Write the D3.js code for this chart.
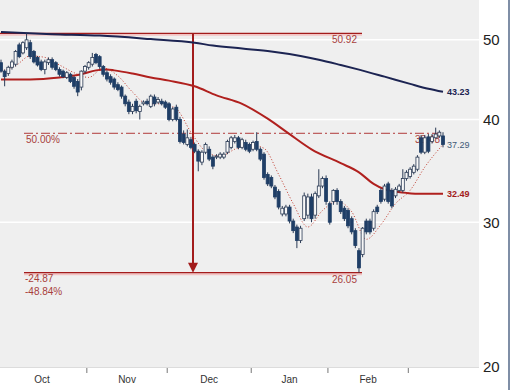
<!DOCTYPE html>
<html>
<head>
<meta charset="utf-8">
<script src="https://cdn.jsdelivr.net/npm/d3@7"></script>
<style>
  body { margin: 0; background: #fff; }
  text { font-family: "Liberation Sans", Arial, sans-serif; }
</style>
</head>
<body>
<script>

var width = 511,
  height = 390;

// daily candles: open, high, low, close
var opens = [46.9,45.8,45.5,46.3,46.7,49.3,48.2,48.9,49.6,48.4,47.6,47.0,46.0,46.9,47.3,46.9,46.0,45.8,45.0,45.4,
  45.0,44.5,43.8,45.8,46.3,46.7,48.0,47.7,46.4,45.6,45.1,44.8,44.1,43.8,42.7,42.0,40.9,42.1,40.9,41.8,
  42.1,41.5,42.6,42.0,42.1,42.0,41.8,40.0,41.4,40.0,38.4,37.3,37.8,37.3,36.6,35.5,36.5,36.8,36.0,36.0,
  36.0,36.0,36.5,37.0,37.6,38.0,37.0,37.5,37.3,36.8,37.6,36.8,36.3,34.3,34.0,33.1,32.7,30.7,30.7,31.3,
  30.1,29.6,28.5,30.3,30.6,32.2,30.6,32.3,33.2,33.9,31.6,31.8,32.8,31.8,31.2,31.0,30.3,29.3,27.7,27.4,
  30.1,30.1,29.5,31.3,32.8,32.0,33.4,32.8,32.3,32.8,32.8,33.9,34.1,34.5,34.8,38.0,36.5,38.1,37.6,38.0,
  38.2,38.2];
var highs = [47.3,46.0,46.5,47.3,48.6,49.6,49.8,50.92,50.0,48.6,47.8,47.3,47.3,47.6,47.6,47.1,46.3,46.0,45.8,45.6,
  45.2,44.8,45.9,46.6,47.1,48.2,48.2,47.9,46.6,45.9,45.4,45.0,44.4,44.0,42.9,42.3,41.8,42.4,41.7,42.2,
  42.4,42.9,42.9,42.6,42.4,42.2,42.0,41.4,41.7,40.3,38.8,38.9,38.1,37.5,36.8,36.7,37.5,37.1,36.2,36.3,
  36.5,36.5,37.8,38.2,38.3,38.2,38.0,37.8,37.5,37.7,38.6,37.0,36.5,34.5,34.2,33.3,32.9,31.4,31.5,31.5,
  30.3,29.8,29.7,32.6,32.5,32.5,32.7,34.8,34.1,34.2,31.8,32.9,33.0,32.0,31.4,31.2,30.5,29.5,27.9,29.6,
  30.3,30.3,31.1,31.5,33.0,33.4,33.6,33.0,33.1,33.4,34.8,34.7,35.0,35.3,36.2,38.3,38.3,38.4,38.4,39.1,
  38.8,38.6];
var lows = [45.6,43.9,45.2,46.0,46.4,47.5,48.0,48.6,47.4,46.8,46.4,45.8,45.4,46.6,46.0,45.8,45.1,44.9,44.8,44.3,
  43.6,42.7,43.4,45.5,46.0,46.4,46.7,46.1,45.1,44.5,44.1,43.5,43.3,42.4,41.5,40.6,40.6,40.7,40.0,41.6,
  41.6,41.3,41.5,41.8,41.6,41.2,39.8,39.8,39.8,37.4,37.3,37.1,36.8,36.4,34.6,35.2,36.3,35.6,34.8,35.8,
  35.8,35.8,36.3,36.8,37.4,36.8,36.8,36.6,36.4,36.6,36.6,35.6,33.8,33.2,33.0,32.0,31.1,30.5,30.5,29.9,
  29.1,27.9,28.3,30.1,30.3,30.0,30.3,32.1,33.0,31.5,29.8,31.5,31.5,30.7,30.1,29.5,29.0,27.9,26.05,27.2,
  29.0,29.0,29.3,30.7,31.6,31.8,31.6,31.2,32.1,32.6,32.6,33.7,33.9,34.3,34.6,36.3,36.3,36.4,37.4,37.9,
  38.0,37.0];
var closes = [45.8,45.1,46.3,47.0,48.4,47.7,49.6,50.0,47.7,47.0,46.6,46.0,47.0,47.3,46.3,46.0,45.4,45.1,45.6,44.5,
  43.9,43.2,45.8,46.4,46.9,47.6,46.9,46.4,45.4,44.8,44.4,43.8,43.5,42.7,41.8,40.9,41.5,41.0,41.5,42.0,
  41.8,42.7,41.8,42.3,41.8,41.4,40.0,41.2,40.0,37.6,37.5,38.0,37.0,36.6,35.6,36.5,37.3,35.8,35.1,36.1,
  36.3,36.3,37.6,38.0,38.0,37.0,37.8,36.8,36.6,37.5,36.8,35.8,34.0,33.4,33.2,32.2,31.3,31.2,31.3,30.1,
  29.3,28.5,29.5,32.3,32.2,30.3,32.5,33.2,33.9,31.8,30.0,32.8,31.8,30.9,30.3,29.7,29.2,28.1,26.4,29.5,
  29.2,29.2,30.9,30.9,31.8,33.2,31.8,31.4,32.9,33.2,33.9,34.5,34.8,35.1,36.0,36.5,38.0,36.6,38.1,38.4,
  38.6,37.29];

// moving averages (candle index, value)
var ma200Idx = [0, 14, 27, 41, 53, 58, 66, 74, 82, 87, 93, 98, 105, 112, 117, 121];
var ma200Val = [51.1, 50.8, 50.6, 50.1, 49.6, 49.2, 48.8, 48.4, 47.8, 47.3, 46.6, 46.0, 45.1, 44.2, 43.6, 43.23];
var ma50Idx = [0, 8, 16, 22, 26, 29, 31, 36, 41, 46, 53, 59, 66, 73, 79, 85, 93, 98, 102, 105, 107, 111, 115, 121];
var ma50Val = [44.75, 44.75, 45.0, 45.4, 45.9, 46.0, 45.9, 45.5, 45.0, 44.6, 43.9, 42.8, 41.8, 40.1, 38.4, 36.8,
  35.4, 34.5, 33.4, 32.9, 32.75, 32.57, 32.48, 32.49];
var ma10Idx = [0, 4, 8, 12, 16, 20, 24, 28, 32, 36, 40, 44, 48, 52, 56, 60, 64, 68, 72, 76, 80, 84, 88, 92, 96,
  100, 104, 108, 112, 116, 121];
var ma10Val = [45.8, 46.5, 47.8, 47.6, 46.6, 45.6, 45.0, 46.2, 45.2, 43.2, 41.8, 41.8, 41.2, 38.6, 36.6, 36.1,
  36.8, 37.3, 36.9, 34.3, 31.6, 29.6, 31.0, 31.8, 30.9, 28.6, 29.8, 31.6, 32.8, 35.0, 37.3];

var monthLabels = ["Oct", "Nov", "Dec", "Jan", "Feb"];
var monthBounds = [-1, 23.5, 45.5, 68.5, 89.5, 111.5];
var yTicks = [20, 30, 40, 50];

var hiVal = 50.92, loVal = 26.05, hiIdx = 7, loIdx = 98;
var midVal = (hiVal + loVal) / 2;

var plotW = 479, plotH = 367;

var svg = d3.select("body").append("svg")
  .attr("width", width)
  .attr("height", height);

var x = d3.scaleLinear().domain([0, 121]).range([1, 443]);
var y = d3.scaleLog().domain([20, 55.9]).range([plotH, 0]);

svg.append("rect")
  .attr("x", 0).attr("y", 0)
  .attr("width", plotW).attr("height", plotH)
  .attr("fill", "#efefef");

svg.append("line")
  .attr("x1", 0).attr("x2", plotW)
  .attr("y1", plotH + 0.5).attr("y2", plotH + 0.5)
  .attr("stroke", "#dcdcdc");

svg.append("line")
  .attr("x1", 509).attr("x2", 509)
  .attr("y1", 0).attr("y2", height)
  .attr("stroke", "#7f8ea6").attr("stroke-width", 2);

// grid lines
svg.selectAll(".grid").data(yTicks.slice(1)).enter().append("line")
  .attr("class", "grid")
  .attr("x1", 0).attr("x2", plotW)
  .attr("y1", function(d){return y(d)}).attr("y2", function(d){return y(d)})
  .attr("stroke", "#fff").attr("stroke-width", 1.5);

svg.selectAll(".ylab").data(yTicks).enter().append("text")
  .attr("class", "ylab")
  .attr("x", 483)
  .attr("y", function(d){return y(d)})
  .attr("dy", "0.36em")
  .attr("font-size", 15)
  .attr("fill", "#222")
  .text(function(d){return d});

// month ticks and labels
svg.selectAll(".mtick").data(monthBounds.slice(1)).enter().append("line")
  .attr("class", "mtick")
  .attr("x1", function(d){return x(d)}).attr("x2", function(d){return x(d)})
  .attr("y1", plotH + 1).attr("y2", plotH + 6)
  .attr("stroke", "#777");

svg.selectAll(".mlab").data(monthLabels).enter().append("text")
  .attr("class", "mlab")
  .attr("x", function(d, i){return x((monthBounds[i] + monthBounds[i + 1]) / 2)})
  .attr("y", 383)
  .attr("text-anchor", "middle")
  .attr("font-size", 10)
  .attr("fill", "#333")
  .text(function(d){return d});

// high / low retracement lines
var red = "#a31c1c";
var hiY = y(hiVal), loY = y(loVal), midY = y(midVal);
var lineEnd = 362;

svg.append("line").attr("x1", 0).attr("x2", lineEnd).attr("y1", hiY + 1.5).attr("y2", hiY + 1.5)
  .attr("stroke", "#f3c4c4").attr("stroke-width", 2);
svg.append("line").attr("x1", 0).attr("x2", lineEnd).attr("y1", hiY).attr("y2", hiY)
  .attr("stroke", red).attr("stroke-width", 1.3);
svg.append("line").attr("x1", 24).attr("x2", lineEnd).attr("y1", loY + 1.5).attr("y2", loY + 1.5)
  .attr("stroke", "#f3c4c4").attr("stroke-width", 2);
svg.append("line").attr("x1", 24).attr("x2", lineEnd).attr("y1", loY).attr("y2", loY)
  .attr("stroke", red).attr("stroke-width", 1.3);
svg.append("line").attr("x1", 24).attr("x2", 441).attr("y1", midY).attr("y2", midY)
  .attr("stroke", "#b03a3a").attr("stroke-width", 1)
  .attr("stroke-dasharray", "9,3,2,3");

var redText = "#a8403c";
svg.append("text").attr("x", 357).attr("y", hiY + 10).attr("text-anchor", "end")
  .attr("font-size", 10).attr("fill", redText).text(hiVal.toFixed(2));
svg.append("text").attr("x", 357).attr("y", loY + 10).attr("text-anchor", "end")
  .attr("font-size", 10).attr("fill", redText).text(loVal.toFixed(2));
svg.append("text").attr("x", 26).attr("y", midY + 10)
  .attr("font-size", 10).attr("fill", redText).text("50.00%");
svg.append("text").attr("x", 440).attr("y", midY + 10).attr("text-anchor", "end")
  .attr("font-size", 10).attr("fill", redText).text(midVal.toFixed(2));
svg.append("text").attr("x", 25).attr("y", loY + 9)
  .attr("font-size", 10).attr("fill", redText).text((loVal - hiVal).toFixed(2));
svg.append("text").attr("x", 25).attr("y", loY + 22)
  .attr("font-size", 10).attr("fill", redText)
  .text(((loVal - hiVal) / hiVal * 100).toFixed(2) + "%");

// arrow from high to low
svg.append("line").attr("x1", 193).attr("x2", 193).attr("y1", hiY).attr("y2", loY - 8)
  .attr("stroke", red).attr("stroke-width", 2);
svg.append("path")
  .attr("d", "M188," + (loY - 10) + "L198," + (loY - 10) + "L193," + loY + "Z")
  .attr("fill", red);

// moving averages
var ma200 = ma200Idx.map(function(d, i){return {i: d, v: ma200Val[i]}});
var ma50 = ma50Idx.map(function(d, i){return {i: d, v: ma50Val[i]}});
var ma10 = ma10Idx.map(function(d, i){return {i: d, v: ma10Val[i]}});

var line = d3.line()
  .x(function(d){return x(d.i)})
  .y(function(d){return y(d.v)})
  .curve(d3.curveMonotoneX);

svg.append("path").datum(ma200).attr("d", line)
  .attr("fill", "none").attr("stroke", "#1c2452").attr("stroke-width", 2);
svg.append("path").datum(ma50).attr("d", line)
  .attr("fill", "none").attr("stroke", "#b0201e").attr("stroke-width", 2);
svg.append("path").datum(ma10).attr("d", line)
  .attr("fill", "none").attr("stroke", "#c0392b").attr("stroke-width", 1)
  .attr("stroke-dasharray", "1,2");

// candles
var candles = opens.map(function(o, i){
  return {i: i, o: o, h: highs[i], l: lows[i], c: closes[i]};
});

var g = svg.selectAll(".candle").data(candles).enter().append("g")
  .attr("class", "candle");

g.append("line")
  .attr("x1", function(d){return x(d.i)}).attr("x2", function(d){return x(d.i)})
  .attr("y1", function(d){return y(d.h)}).attr("y2", function(d){return y(d.l)})
  .attr("stroke", "#2b3b55").attr("stroke-width", 1);

g.append("rect")
  .attr("x", function(d){return x(d.i) - 1.5})
  .attr("width", 3)
  .attr("y", function(d){return y(Math.max(d.o, d.c))})
  .attr("height", function(d){return Math.max(1, Math.abs(y(d.o) - y(d.c)))})
  .attr("fill", function(d){return d.c >= d.o ? "#f8f8f8" : "#1f3e66"})
  .attr("stroke", function(d){return d.c >= d.o ? "#2b3b55" : "#1f3e66"})
  .attr("stroke-width", 0.8);

// end labels
var last = candles[candles.length - 1];
svg.append("text").attr("x", 447).attr("y", y(ma200Val[ma200Val.length - 1])).attr("dy", "0.35em")
  .attr("font-size", 9).attr("font-weight", "bold").attr("fill", "#1c2452")
  .text(ma200Val[ma200Val.length - 1].toFixed(2));
svg.append("text").attr("x", 447).attr("y", y(ma50Val[ma50Val.length - 1])).attr("dy", "0.35em")
  .attr("font-size", 9).attr("font-weight", "bold").attr("fill", "#a31c1c")
  .text(ma50Val[ma50Val.length - 1].toFixed(2));
svg.append("text").attr("x", 447).attr("y", y(last.c)).attr("dy", "0.35em")
  .attr("font-size", 9).attr("fill", "#3f5a78")
  .text(last.c.toFixed(2));

</script>
</body>
</html>
